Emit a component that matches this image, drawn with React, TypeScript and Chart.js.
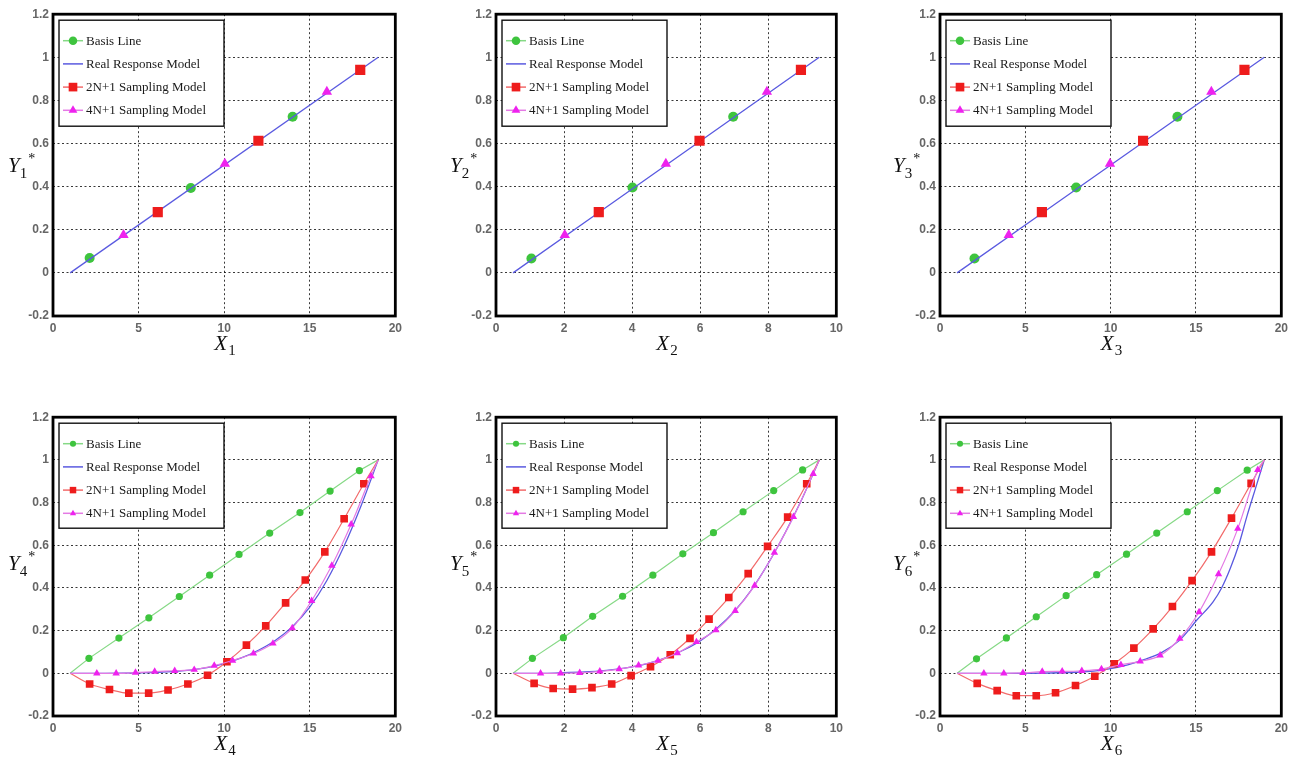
import React, { useEffect, useRef } from 'react';
import { Chart, registerables } from 'chart.js';

Chart.register(...registerables);

// ---------------- data ----------------
const seriesNames = ['Basis Line', 'Real Response Model', '2N+1 Sampling Model', '4N+1 Sampling Model'];
const yMin = -0.2;
const yMax = 1.2;
const yStep = 0.2;

// Panel 1 (X1)
const x1Basis = [2.14, 8.05, 14.0];
const y1Basis = [0.069, 0.394, 0.724];
const x1Real = [1, 19];
const y1Real = [0, 1];
const x1S2 = [6.12, 12.0, 17.95];
const y1S2 = [0.282, 0.613, 0.942];
const x1S4 = [4.12, 10.04, 16.0];
const y1S4 = [0.176, 0.506, 0.84];

// Panel 2 (X2)
const x2Basis = [1.04, 4.01, 6.97];
const y2Basis = [0.067, 0.396, 0.724];
const x2Real = [0.5, 9.5];
const y2Real = [0, 1];
const x2S2 = [3.02, 5.98, 8.96];
const y2S2 = [0.282, 0.613, 0.942];
const x2S4 = [2.02, 4.99, 7.96];
const y2S4 = [0.176, 0.506, 0.84];

// Panel 3 (X3)
const x3Basis = [2.02, 7.98, 13.91];
const y3Basis = [0.067, 0.396, 0.724];
const x3Real = [1, 19];
const y3Real = [0, 1];
const x3S2 = [5.97, 11.9, 17.84];
const y3S2 = [0.282, 0.613, 0.942];
const x3S4 = [4.03, 9.96, 15.9];
const y3S4 = [0.176, 0.506, 0.84];

// Panel 4 (X4)
const x4Basis = [1, 2.1, 3.85, 5.6, 7.38, 9.15, 10.87, 12.66, 14.43, 16.19, 17.9, 19];
const y4Basis = [0, 0.07, 0.165, 0.26, 0.36, 0.46, 0.557, 0.657, 0.753, 0.854, 0.95, 1];
const x4Real = [1, 3, 5, 7, 8, 9, 10, 11, 12, 13, 14, 15, 16, 17, 18, 19];
const y4Real = [0, 0, 0.002, 0.008, 0.015, 0.027, 0.045, 0.072, 0.108, 0.155, 0.22, 0.31, 0.435, 0.595, 0.785, 1];
const x4S2 = [1, 2.14, 3.3, 4.43, 5.59, 6.72, 7.88, 9.03, 10.16, 11.3, 12.43, 13.59, 14.74, 15.88, 17.01, 18.16, 19];
const y4S2 = [0, -0.05, -0.076, -0.093, -0.093, -0.078, -0.05, -0.009, 0.054, 0.132, 0.222, 0.33, 0.437, 0.569, 0.724, 0.888, 1];
const x4S4 = [1, 2.56, 3.69, 4.82, 5.94, 7.11, 8.25, 9.42, 10.49, 11.71, 12.85, 13.98, 15.11, 16.29, 17.42, 18.58, 19];
const y4S4 = [0, 0, 0, 0.003, 0.008, 0.012, 0.017, 0.036, 0.06, 0.093, 0.14, 0.212, 0.34, 0.505, 0.698, 0.924, 1];

// Panel 5 (X5)
const x5Basis = [0.5, 1.07, 1.98, 2.84, 3.72, 4.61, 5.49, 6.39, 7.26, 8.16, 9.01, 9.5];
const y5Basis = [0, 0.07, 0.167, 0.267, 0.361, 0.46, 0.56, 0.659, 0.757, 0.856, 0.953, 1];
const x5Real = [0.5, 1.5, 2, 2.5, 3, 3.5, 4, 4.5, 5, 5.5, 6, 6.5, 7, 7.5, 8, 8.5, 9, 9.5];
const y5Real = [0, 0, 0.003, 0.006, 0.01, 0.018, 0.03, 0.048, 0.074, 0.108, 0.152, 0.212, 0.29, 0.39, 0.515, 0.66, 0.82, 1];
const x5S2 = [0.5, 1.12, 1.68, 2.25, 2.82, 3.4, 3.97, 4.54, 5.12, 5.7, 6.26, 6.84, 7.41, 7.98, 8.57, 9.13, 9.5];
const y5S2 = [0, -0.047, -0.071, -0.074, -0.067, -0.05, -0.011, 0.031, 0.087, 0.164, 0.254, 0.355, 0.467, 0.595, 0.732, 0.888, 1];
const x5S4 = [0.5, 1.31, 1.9, 2.46, 3.05, 3.62, 4.19, 4.76, 5.33, 5.89, 6.46, 7.03, 7.6, 8.18, 8.74, 9.32, 9.5];
const y5S4 = [0, 0, 0, 0.002, 0.009, 0.02, 0.037, 0.06, 0.095, 0.147, 0.203, 0.293, 0.411, 0.566, 0.733, 0.935, 1];

// Panel 6 (X6)
const x6Basis = [1, 2.14, 3.89, 5.64, 7.39, 9.18, 10.93, 12.7, 14.49, 16.25, 18.0, 19];
const y6Basis = [0, 0.068, 0.166, 0.265, 0.364, 0.462, 0.558, 0.657, 0.757, 0.856, 0.952, 1];
const x6Real = [1, 5, 8, 9, 10, 11, 12, 13, 14, 14.5, 15, 16, 16.5, 17, 17.5, 18, 18.5, 19];
const y6Real = [0, 0, 0.005, 0.01, 0.022, 0.04, 0.065, 0.098, 0.152, 0.195, 0.245, 0.335, 0.4, 0.49, 0.6, 0.74, 0.87, 1];
const x6S2 = [1, 2.18, 3.35, 4.47, 5.64, 6.77, 7.94, 9.07, 10.21, 11.36, 12.49, 13.62, 14.77, 15.91, 17.08, 18.23, 19];
const y6S2 = [0, -0.047, -0.081, -0.105, -0.105, -0.091, -0.057, -0.014, 0.045, 0.118, 0.208, 0.313, 0.434, 0.569, 0.727, 0.89, 1];
const x6S4 = [1, 2.57, 3.74, 4.86, 5.99, 7.16, 8.31, 9.46, 10.6, 11.73, 12.9, 14.05, 15.18, 16.32, 17.45, 18.62, 19];
const y6S4 = [0, 0, 0, 0.002, 0.008, 0.009, 0.012, 0.02, 0.04, 0.056, 0.084, 0.163, 0.287, 0.465, 0.678, 0.953, 1];

// ---------------- styles ----------------
const COLORS = {
  basisMarker: '#3ec43e',
  basisLine: '#86d986',
  real: '#5a5ae0',
  s2Marker: '#ee1c1c',
  s2Line: '#f26b6b',
  s4Marker: '#ee22ee',
  s4Line: '#e47ae4',
};
const TICK_FONT = { family: '"Liberation Sans", Arial, sans-serif', size: 12, weight: 'bold' as const };
const TICK_COLOR = '#666666';
const GRID_COLOR = 'rgba(0,0,0,0.78)';
const GRID_DASH = [2, 2.5];

type XY = [number[], number[]];
interface PanelDef {
  idx: number;
  xMax: number;
  xStep: number;
  curves: boolean;
  basis: XY;
  real: XY;
  s2: XY;
  s4: XY;
  plot: { l: number; t: number; r: number; b: number };
  yTitle: { left: number; top: number };
  xTitleTop: number;
}

const panels: PanelDef[] = [
  { idx: 1, xMax: 20, xStep: 5, curves: false, basis: [x1Basis, y1Basis], real: [x1Real, y1Real], s2: [x1S2, y1S2], s4: [x1S4, y1S4], plot: { l: 53, t: 13, r: 397, b: 316 }, yTitle: { left: 8, top: 155 }, xTitleTop: 333 },
  { idx: 2, xMax: 10, xStep: 2, curves: false, basis: [x2Basis, y2Basis], real: [x2Real, y2Real], s2: [x2S2, y2S2], s4: [x2S4, y2S4], plot: { l: 496, t: 13, r: 838, b: 316 }, yTitle: { left: 450, top: 155 }, xTitleTop: 333 },
  { idx: 3, xMax: 20, xStep: 5, curves: false, basis: [x3Basis, y3Basis], real: [x3Real, y3Real], s2: [x3S2, y3S2], s4: [x3S4, y3S4], plot: { l: 940, t: 13, r: 1283, b: 316 }, yTitle: { left: 893, top: 155 }, xTitleTop: 333 },
  { idx: 4, xMax: 20, xStep: 5, curves: true, basis: [x4Basis, y4Basis], real: [x4Real, y4Real], s2: [x4S2, y4S2], s4: [x4S4, y4S4], plot: { l: 53, t: 416, r: 397, b: 716 }, yTitle: { left: 8, top: 553 }, xTitleTop: 733 },
  { idx: 5, xMax: 10, xStep: 2, curves: true, basis: [x5Basis, y5Basis], real: [x5Real, y5Real], s2: [x5S2, y5S2], s4: [x5S4, y5S4], plot: { l: 496, t: 416, r: 838, b: 716 }, yTitle: { left: 450, top: 553 }, xTitleTop: 733 },
  { idx: 6, xMax: 20, xStep: 5, curves: true, basis: [x6Basis, y6Basis], real: [x6Real, y6Real], s2: [x6S2, y6S2], s4: [x6S4, y6S4], plot: { l: 940, t: 416, r: 1283, b: 716 }, yTitle: { left: 893, top: 553 }, xTitleTop: 733 },
];

const toPts = ([xs, ys]: XY) => xs.map((x, i) => ({ x, y: ys[i] }));

function drawMarker(ctx: CanvasRenderingContext2D, kind: string, x: number, y: number, r: number, color: string) {
  ctx.save();
  ctx.fillStyle = color;
  ctx.beginPath();
  if (kind === 'circle') {
    ctx.arc(x, y, r, 0, Math.PI * 2);
  } else if (kind === 'rect') {
    const s = r * Math.SQRT1_2;
    ctx.rect(x - s, y - s, 2 * s, 2 * s);
  } else {
    let a = 0;
    ctx.moveTo(x + Math.sin(a) * r, y - Math.cos(a) * r);
    a += (2 * Math.PI) / 3;
    ctx.lineTo(x + Math.sin(a) * r, y - Math.cos(a) * r);
    a += (2 * Math.PI) / 3;
    ctx.lineTo(x + Math.sin(a) * r, y - Math.cos(a) * r);
    ctx.closePath();
  }
  ctx.fill();
  ctx.restore();
}

const PAD_L = 40;
const PAD_T = 10;
const PAD_R = 10;
const PAD_B = 26;

function PanelChart({ p }: { p: PanelDef }) {
  const ref = useRef<HTMLCanvasElement>(null);
  const w = p.plot.r - p.plot.l + PAD_L + PAD_R;
  const h = p.plot.b - p.plot.t + PAD_T + PAD_B;

  useEffect(() => {
    const big = !p.curves;
    const rCircle = big ? 5 : 3.6;
    const rRect = big ? 7.2 : 5.4;
    const rTri = big ? 6 : 4.3;
    const endless = (n: number, r: number) => (c: any) => (c.dataIndex === 0 || c.dataIndex === n - 1 ? 0 : r);

    const legendItems = [
      { line: COLORS.basisLine, marker: 'circle', mColor: COLORS.basisMarker, r: rCircle * 0.85 },
      { line: COLORS.real, marker: '', mColor: '', r: 0 },
      { line: COLORS.s2Line, marker: 'rect', mColor: COLORS.s2Marker, r: rRect * 0.85 },
      { line: COLORS.s4Line, marker: 'triangle', mColor: COLORS.s4Marker, r: rTri * 0.85 },
    ];

    const framePlugin = {
      id: 'frame' + p.idx,
      afterDatasetsDraw(chart: any) {
        const { ctx, chartArea: a } = chart;
        ctx.save();
        ctx.strokeStyle = '#000';
        ctx.lineWidth = 2.8;
        ctx.strokeRect(a.left, a.top, a.right - a.left, a.bottom - a.top);
        ctx.restore();
      },
    };

    const legendPlugin = {
      id: 'boxLegend' + p.idx,
      afterDraw(chart: any) {
        const { ctx, chartArea: a } = chart;
        const bx = a.left + 6;
        const by = a.top + 6;
        const bw = 165;
        const bh = p.curves ? 105 : 106;
        ctx.save();
        ctx.fillStyle = '#fff';
        ctx.fillRect(bx, by, bw, bh);
        ctx.strokeStyle = '#111';
        ctx.lineWidth = 1.4;
        ctx.strokeRect(bx, by, bw, bh);
        ctx.font = '13px "Liberation Serif", "Times New Roman", serif';
        ctx.textBaseline = 'middle';
        ctx.textAlign = 'left';
        legendItems.forEach((it, i) => {
          const cy = by + 20.5 + i * 23.2;
          ctx.strokeStyle = it.line;
          ctx.lineWidth = 1.5;
          ctx.beginPath();
          ctx.moveTo(bx + 4, cy);
          ctx.lineTo(bx + 24, cy);
          ctx.stroke();
          if (it.marker) drawMarker(ctx, it.marker, bx + 14, cy, it.r, it.mColor);
          ctx.fillStyle = '#1a1a1a';
          ctx.fillText(seriesNames[i], bx + 27, cy + 0.5);
        });
        ctx.restore();
      },
    };

    const basisPts = toPts(p.basis);
    const realPts = toPts(p.real);
    const s2Pts = toPts(p.s2);
    const s4Pts = toPts(p.s4);

    const datasets: any[] = [
      {
        label: seriesNames[0],
        data: basisPts,
        order: 4,
        showLine: p.curves,
        borderColor: COLORS.basisLine,
        borderWidth: 1.2,
        pointStyle: 'circle',
        pointBackgroundColor: COLORS.basisMarker,
        pointBorderWidth: 0,
        pointRadius: p.curves ? endless(basisPts.length, rCircle) : rCircle,
        tension: 0,
      },
      {
        label: seriesNames[1],
        data: realPts,
        order: 3,
        showLine: true,
        borderColor: COLORS.real,
        borderWidth: 1.3,
        pointRadius: 0,
        cubicInterpolationMode: 'monotone',
      },
      {
        label: seriesNames[2],
        data: s2Pts,
        order: 2,
        showLine: p.curves,
        borderColor: COLORS.s2Line,
        borderWidth: 1.2,
        pointStyle: 'rect',
        pointBackgroundColor: COLORS.s2Marker,
        pointBorderWidth: 0,
        pointRadius: p.curves ? endless(s2Pts.length, rRect) : rRect,
        cubicInterpolationMode: 'monotone',
      },
      {
        label: seriesNames[3],
        data: s4Pts,
        order: 1,
        showLine: p.curves,
        borderColor: COLORS.s4Line,
        borderWidth: 1.2,
        pointStyle: 'triangle',
        pointBackgroundColor: COLORS.s4Marker,
        pointBorderWidth: 0,
        pointRadius: p.curves ? endless(s4Pts.length, rTri) : rTri,
        cubicInterpolationMode: 'monotone',
      },
    ];

    const chart = new Chart(ref.current as HTMLCanvasElement, {
      type: 'line',
      data: { datasets },
      options: {
        responsive: false,
        animation: false,
        devicePixelRatio: 1,
        events: [],
        layout: { padding: { left: 0, top: PAD_T, right: PAD_R, bottom: 0 } },
        plugins: { legend: { display: false }, tooltip: { enabled: false } },
        scales: {
          x: {
            type: 'linear',
            min: 0,
            max: p.xMax,
            ticks: { stepSize: p.xStep, autoSkip: false, maxRotation: 0, padding: 5, font: TICK_FONT, color: TICK_COLOR },
            grid: { color: GRID_COLOR, lineWidth: 1, drawTicks: false, borderDash: GRID_DASH } as any,
            border: { display: false, dash: GRID_DASH },
            afterFit: (s: any) => {
              s.height = PAD_B;
            },
          },
          y: {
            type: 'linear',
            min: yMin,
            max: yMax,
            ticks: {
              stepSize: yStep,
              autoSkip: false,
              padding: 4,
              font: TICK_FONT,
              color: TICK_COLOR,
              callback: (v: any) => String(Math.round(Number(v) * 10) / 10),
            },
            grid: { color: GRID_COLOR, lineWidth: 1, drawTicks: false, borderDash: GRID_DASH } as any,
            border: { display: false, dash: GRID_DASH },
            afterFit: (s: any) => {
              s.width = PAD_L;
            },
          },
        },
      } as any,
      plugins: [framePlugin, legendPlugin],
    });
    return () => chart.destroy();
  }, []);

  return (
    <canvas
      ref={ref}
      width={w}
      height={h}
      style={{ position: 'absolute', left: p.plot.l - PAD_L, top: p.plot.t - PAD_T, width: w, height: h }}
    />
  );
}

const titleBase: React.CSSProperties = {
  position: 'absolute',
  fontFamily: '"Liberation Serif", "Times New Roman", serif',
  fontSize: 21,
  lineHeight: '21px',
  color: '#111',
  whiteSpace: 'nowrap',
};

function XTitle({ p }: { p: PanelDef }) {
  const cx = (p.plot.l + p.plot.r) / 2;
  return (
    <div style={{ ...titleBase, left: cx, top: p.xTitleTop, transform: 'translateX(-50%)' }}>
      <i>X</i>
      <span style={{ fontSize: 15, position: 'relative', top: 5, marginLeft: 1 }}>{p.idx}</span>
    </div>
  );
}

function YTitle({ p }: { p: PanelDef }) {
  return (
    <div style={{ ...titleBase, left: p.yTitle.left, top: p.yTitle.top }}>
      <i>Y</i>
      <span style={{ fontSize: 15, position: 'relative', top: 6 }}>{p.idx}</span>
      <span style={{ fontSize: 14, position: 'relative', top: -9, marginLeft: 1 }}>*</span>
    </div>
  );
}

export default function App() {
  return (
    <div style={{ position: 'absolute', left: 0, top: 0, width: 1297, height: 758, background: '#fff', overflow: 'hidden' }}>
      {panels.map((p) => (
        <React.Fragment key={p.idx}>
          <PanelChart p={p} />
          <XTitle p={p} />
          <YTitle p={p} />
        </React.Fragment>
      ))}
    </div>
  );
}
